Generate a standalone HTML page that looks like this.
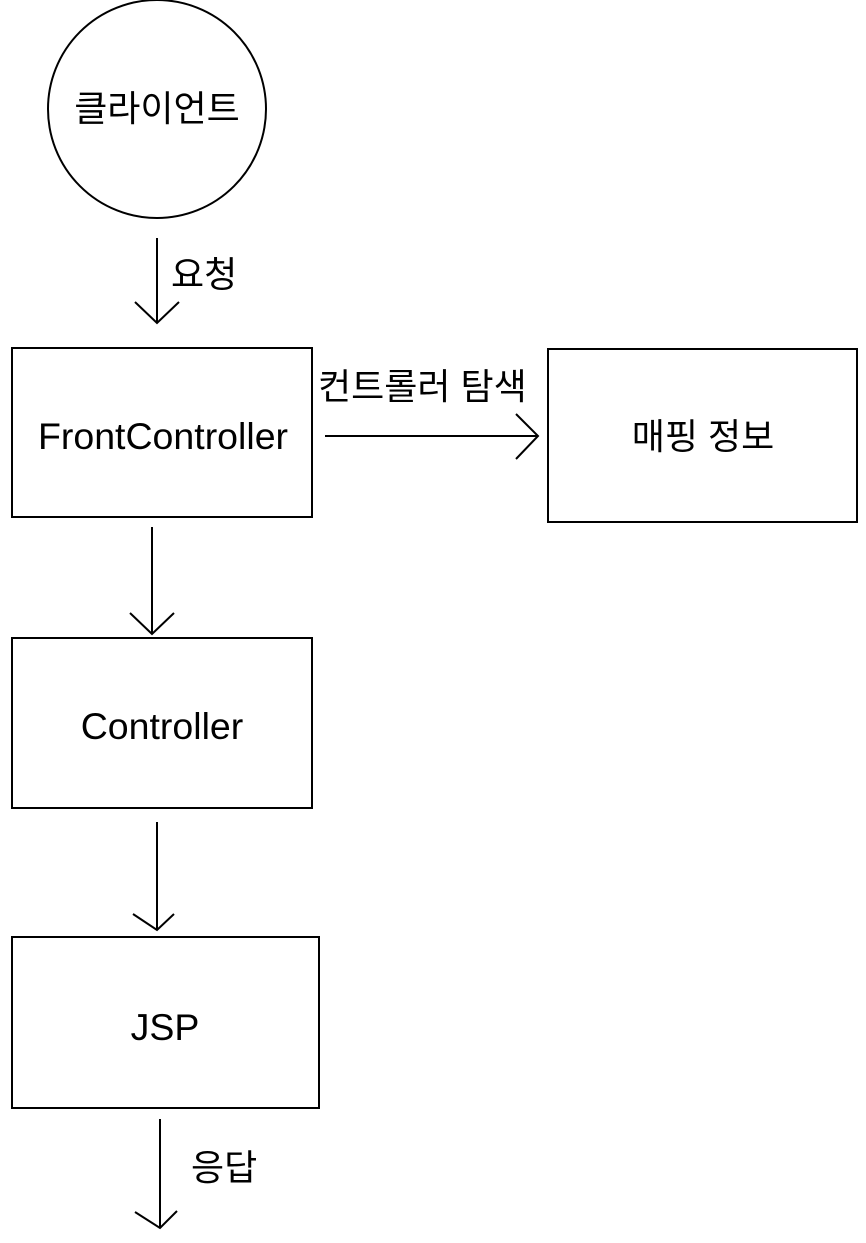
<!DOCTYPE html>
<html><head><meta charset="utf-8"><style>
html,body{margin:0;padding:0;background:#fff;}
svg{display:block;}
text{font-family:"Liberation Sans","Noto Sans CJK KR",sans-serif;fill:#000;}
</style></head><body>
<svg width="866" height="1243" viewBox="0 0 866 1243" xmlns="http://www.w3.org/2000/svg">
<g fill="none" stroke="#000" stroke-width="2">
<circle cx="157" cy="109" r="109"/>
<line x1="157" y1="238" x2="157" y2="323"/>
<polyline points="135,302 157,323 179,302"/>
<rect x="12" y="348" width="300" height="169"/>
<line x1="325" y1="436" x2="538" y2="436"/>
<polyline points="516,414 538,436 516,459"/>
<rect x="548" y="349" width="309" height="173"/>
<line x1="152" y1="527" x2="152" y2="634"/>
<polyline points="130,613 152,634 174,613"/>
<rect x="12" y="638" width="300" height="170"/>
<line x1="157" y1="822" x2="157" y2="930"/>
<polyline points="133,914 157,930 174,914"/>
<rect x="12" y="937" width="307" height="171"/>
<line x1="160" y1="1119" x2="160" y2="1228"/>
<polyline points="135,1212 160,1228 177,1211"/>
</g>
<text x="157" y="121" font-size="36" text-anchor="middle">클라이언트</text>
<text x="171" y="287" font-size="36">요청</text>
<text x="163" y="449" font-size="37.5" text-anchor="middle">FrontController</text>
<text x="318" y="399" font-size="36">컨트롤러 탐색</text>
<text x="703" y="449" font-size="36" text-anchor="middle">매핑 정보</text>
<text x="162" y="739" font-size="37.5" text-anchor="middle">Controller</text>
<text x="165" y="1040" font-size="37.5" text-anchor="middle">JSP</text>
<text x="191" y="1180" font-size="36">응답</text>
</svg>
</body></html>
